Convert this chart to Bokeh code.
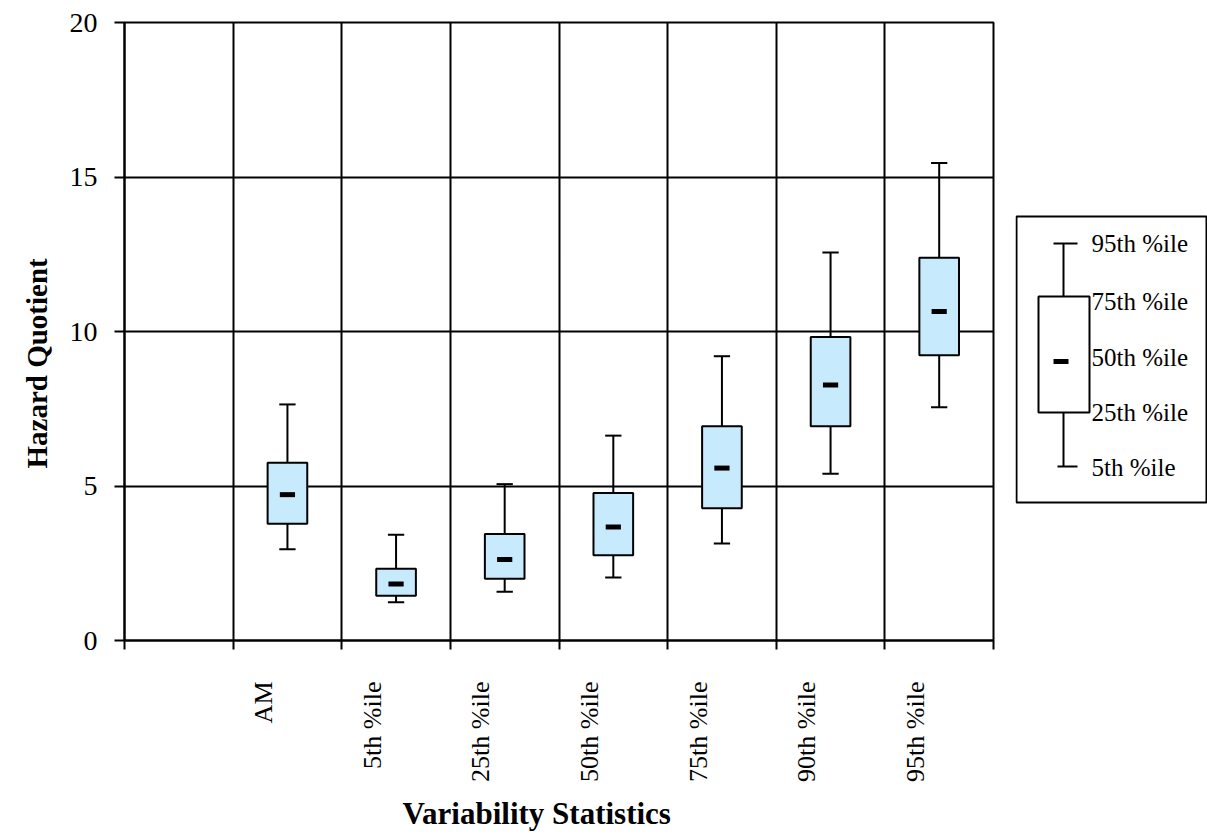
import math
from bokeh.plotting import figure
from bokeh.models import Range1d, FixedTicker, ColumnDataSource, Title
from bokeh.layouts import row
from bokeh.core.properties import value
from bokeh.embed import file_html
from bokeh.resources import INLINE

# ---- data ----
categories = ["AM", "5th %ile", "25th %ile", "50th %ile", "75th %ile", "90th %ile", "95th %ile"]
p5 = [2.95, 1.24, 1.58, 2.04, 3.14, 5.40, 7.55]
q25 = [3.78, 1.45, 2.00, 2.76, 4.28, 6.93, 9.23]
med = [4.72, 1.83, 2.62, 3.67, 5.58, 8.27, 10.65]
q75 = [5.75, 2.32, 3.45, 4.77, 6.93, 9.82, 12.39]
p95 = [7.64, 3.42, 5.06, 6.63, 9.20, 12.56, 15.45]
y_ticks = [0, 5, 10, 15, 20]
legend_labels = ["95th %ile", "75th %ile", "50th %ile", "25th %ile", "5th %ile"]

FONT = "Liberation Serif"
BOX_FILL = "#C7EAFC"

xpos = [i + 1.5 for i in range(len(categories))]
cap = 0.075
src = ColumnDataSource(dict(
    x=xpos, p5=p5, q25=q25, med=med, q75=q75, p95=p95,
    cl=[x - cap for x in xpos], cr=[x + cap for x in xpos],
))

p = figure(frame_width=869, frame_height=618,
           min_border_left=124, min_border_right=15, min_border_top=22, min_border_bottom=194,
           x_range=Range1d(0, 8), y_range=Range1d(0, 20),
           output_backend="svg", toolbar_location=None)
p.background_fill_color = "white"
p.border_fill_color = "white"
p.outline_line_color = "black"
p.outline_line_width = 2

# grids
p.xgrid.ticker = FixedTicker(ticks=list(range(0, 9)))
p.ygrid.ticker = FixedTicker(ticks=y_ticks)
for g in (p.xgrid, p.ygrid):
    g.grid_line_color = "black"
    g.grid_line_width = 2
    g.grid_line_alpha = 1.0

# y axis
ya = p.yaxis[0]
ya.ticker = FixedTicker(ticks=y_ticks)
ya.axis_line_color = "black"
ya.axis_line_width = 2
ya.major_tick_out = 10
ya.major_tick_in = 0
ya.major_tick_line_width = 2
ya.minor_tick_line_color = None
ya.major_label_text_font = FONT
ya.major_label_text_font_size = "28px"
ya.major_label_text_color = "black"
ya.major_label_standoff = 17

# x axis: labels (major ticks, no marks) + slot boundary marks (minor ticks)
label_pos = [i + 1.28 for i in range(len(categories))]
xa = p.xaxis[0]
xa.ticker = FixedTicker(ticks=label_pos, minor_ticks=list(range(0, 9)))
xa.major_label_overrides = {lp: c for lp, c in zip(label_pos, categories)}
xa.axis_line_color = "black"
xa.axis_line_width = 2
xa.major_tick_line_color = None
xa.major_tick_out = 0
xa.major_tick_in = 0
xa.minor_tick_line_color = "black"
xa.minor_tick_line_width = 2
xa.minor_tick_out = 9
xa.minor_tick_in = 0
xa.major_label_orientation = math.pi / 2
xa.major_label_text_font = FONT
xa.major_label_text_font_size = "26px"
xa.major_label_text_color = "black"
xa.major_label_standoff = 32

# axis titles as side titles (start-aligned with an offset along the side)
y_title = Title(text="Hazard Quotient", align="left", offset=172, standoff=28,
                text_font=FONT, text_font_style="bold", text_font_size="29px", text_color="black")
p.add_layout(y_title, "left")
x_title = Title(text="Variability Statistics", align="left", offset=278, standoff=18,
                text_font=FONT, text_font_style="bold", text_font_size="31px", text_color="black")
p.add_layout(x_title, "below")

# glyphs
p.segment(x0="x", y0="q75", x1="x", y1="p95", source=src, line_color="black", line_width=2)
p.segment(x0="x", y0="p5", x1="x", y1="q25", source=src, line_color="black", line_width=2)
p.segment(x0="cl", y0="p95", x1="cr", y1="p95", source=src, line_color="black", line_width=2)
p.segment(x0="cl", y0="p5", x1="cr", y1="p5", source=src, line_color="black", line_width=2)
p.vbar(x="x", width=0.365, top="q75", bottom="q25", source=src,
       fill_color=BOX_FILL, line_color="black", line_width=2)
p.rect(x="x", y="med", width=0.14, height=5, height_units="screen", source=src,
       fill_color="black", line_color=None)

# ---- legend key figure (same vertical borders so the row aligns) ----
lg = figure(frame_width=192, frame_height=618,
            min_border_left=7, min_border_right=0, min_border_top=22, min_border_bottom=194,
            x_range=Range1d(0, 192), y_range=Range1d(618, 0),
            output_backend="svg", toolbar_location=None)
lg.axis.visible = False
lg.xgrid.visible = False
lg.ygrid.visible = False
lg.outline_line_color = None
lg.background_fill_color = "white"
lg.border_fill_color = "white"

# legend frame
lg.quad(left=[1], right=[191], top=[194], bottom=[480], fill_color="white",
        line_color="black", line_width=2)
ky = [221, 274, 339, 390, 444]  # rows: top cap, box top, median, box bottom, bottom cap
kx = 48
lg.segment(x0=[kx, kx], y0=[ky[0], ky[3]], x1=[kx, kx], y1=[ky[1], ky[4]], line_color="black", line_width=2)
lg.segment(x0=[kx - 10, kx - 6], y0=[ky[0], ky[4]], x1=[kx + 14, kx + 14], y1=[ky[0], ky[4]],
           line_color="black", line_width=2)
lg.quad(left=[23], right=[74], top=[ky[1]], bottom=[ky[3]], fill_color="white",
        line_color="black", line_width=2)
lg.rect(x=[45.5], y=[ky[2]], width=[15], height=[5], fill_color="black", line_color=None)
lg.text(x=[76] * 5, y=[221, 279, 335, 390, 445], text=legend_labels,
        text_font=value(FONT), text_font_size=value("25px"), text_baseline="middle",
        text_align="left", text_color="black")

layout = row(p, lg)
open("out.html", "w").write(file_html(layout, INLINE))
